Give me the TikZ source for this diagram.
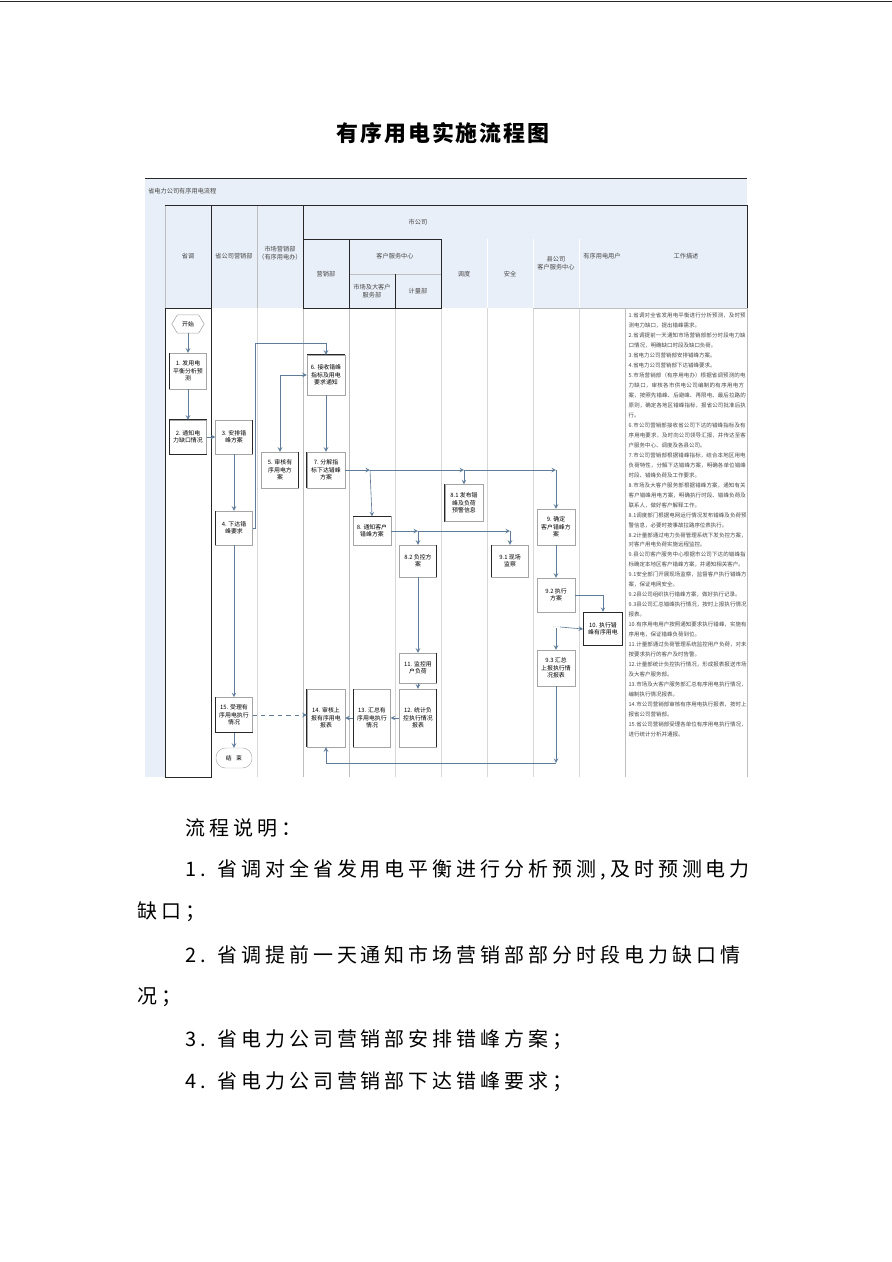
\documentclass[tikz,border=0pt]{standalone}
\usepackage{fontspec}
\setmainfont{Noto Sans CJK SC}
\newfontfamily\titlefont[LetterSpace=9]{Noto Sans CJK SC}
\newfontfamily\bodyfont[LetterSpace=20]{Noto Sans CJK SC}
\XeTeXlinebreaklocale "zh"
\XeTeXlinebreakskip = 0pt plus 1pt

\definecolor{bandblue}{RGB}{233,239,248}
\definecolor{boxgray}{RGB}{165,165,165}
\definecolor{edgedark}{RGB}{40,40,40}
\definecolor{flowc}{RGB}{95,125,155}
\definecolor{lanegray}{RGB}{190,190,190}
\definecolor{hdrtext}{RGB}{70,70,70}

\begin{document}
\begin{tikzpicture}[x=0.025cm, y=-0.025cm,
  procbox/.style={draw=boxgray, line width=0.3pt, minimum width=0.92cm, minimum height=0.85cm, inner sep=0.4pt, align=center, font=\fontsize{4.2}{5.2}\selectfont},
  edge/.style={draw=edgedark, line width=0.8pt},
  flow/.style={->, >=stealth, draw=flowc, line width=0.45pt},
  lane/.style={draw=lanegray, line width=0.3pt},
  hdr/.style={align=center, font=\fontsize{4.4}{5.6}\selectfont, text=hdrtext, inner sep=0},
  bodytext/.style={anchor=west, inner sep=0, font=\bodyfont\fontsize{14.2}{16}\selectfont}]

\useasboundingbox (0,0) rectangle (892,1262);
\draw[edgedark, line width=0.5pt] (0,1) -- (892,1);

% title
\node[font=\titlefont\bfseries\fontsize{15.6}{18}\selectfont] (title) at (443,133) {有序用电实施流程图};

% frame and header
\fill[bandblue] (145,178) rectangle (747,205);
\fill[bandblue] (145,205) rectangle (165,777);
\fill[bandblue] (165,205) rectangle (747,308);
\draw[edgedark, line width=0.5pt] (145,178) -- (747,178);
\node[hdr, anchor=west] (company) at (148,191) {省电力公司有序用电流程};

\foreach \lx in {487,533,579}
  \draw[white, line width=0.6pt] (\lx,239) -- (\lx,308);
\foreach \lx in {257,349,395,441,487,533,579}
  \draw[lane, draw=lanegray!60] (\lx,308) -- (\lx,777);
\draw[lane] (303,308) -- (303,777);
\draw[lane] (349,308) -- (349,777);
\draw[lane] (165,205) -- (165,308);
\draw[lane] (257,205) -- (257,308);
\draw[lane] (533,308) -- (747,308);
\draw[lane] (625,308) -- (625,777);
\draw[lane] (747,308) -- (747,777);
\draw[lane] (349,274) -- (441,274);

\draw[edgedark, line width=0.7pt] (165,205) -- (747,205) -- (747,308);
\draw[edgedark, line width=0.7pt] (165,308) rectangle (211,777);
\draw[edgedark, line width=0.7pt] (211,205) -- (211,308);
\draw[edgedark, line width=0.7pt] (303,205) -- (303,308);
\draw[edgedark, line width=0.7pt] (303,239) rectangle (441,308);
\draw[edgedark, line width=0.7pt] (349,239) -- (349,308);
\draw[edgedark, line width=0.7pt] (395,274) -- (395,308);

\node[hdr] (h1) at (188,256) {省调};
\node[hdr] (h2) at (234,256) {省公司营销部};
\node[hdr] (h3) at (280,253) {市场营销部\\（有序用电办）};
\node[hdr] (h4) at (418,222) {市公司};
\node[hdr] (h5) at (326,274) {营销部};
\node[hdr] (h6) at (395,256) {客户服务中心};
\node[hdr] (h7) at (372,291) {市场及大客户\\服务部};
\node[hdr] (h8) at (418,291) {计量部};
\node[hdr] (h9) at (464,274) {调度};
\node[hdr] (h10) at (510,274) {安全};
\node[hdr] (h11) at (556,263) {县公司\\客户服务中心};
\node[hdr] (h12) at (602,256) {有序用电用户};
\node[hdr] (h13) at (686,256) {工作描述};

% process boxes
\node[procbox, draw=none, minimum width=0.8cm, minimum height=0.45cm] (start) at (188,324) {开始};
\draw[boxgray, line width=0.4pt] (start.west) -- ([xshift=4pt]start.north west) -- ([xshift=-4pt]start.north east) -- (start.east) -- ([xshift=-4pt]start.south east) -- ([xshift=4pt]start.south west) -- cycle;

\node[procbox, minimum height=0.9cm] (s1) at (188,371) {1. 发用电\\平衡分析预\\测};
\node[procbox] (s2) at (188,437) {2. 通知电\\力缺口情况};
\node[procbox] (s3) at (234,437) {3. 安排错\\峰方案};
\node[procbox] (s4) at (234,528) {4. 下达错\\峰要求};
\node[procbox, minimum height=0.9cm] (s5) at (280,470) {5. 审核有\\序用电方\\案};
\node[procbox, minimum width=0.95cm, minimum height=1cm] (s6) at (326,375) {6. 接收错峰\\指标及用电\\要求通知};
\node[procbox, minimum width=0.95cm, minimum height=0.9cm] (s7) at (326,470) {7. 分解指\\标下达错峰\\方案};
\node[procbox, minimum width=0.95cm, minimum height=0.72cm] (s8) at (372,531) {8. 通知客户\\错峰方案};
\node[procbox, minimum width=0.95cm, minimum height=0.92cm] (s81) at (464,503) {8.1 发布错\\峰及负荷\\预警信息};
\node[procbox, minimum height=0.8cm] (s82) at (418,561) {8.2 负控方\\案};
\node[procbox, minimum height=0.8cm] (s91) at (510,561) {9.1 现场\\监察};
\node[procbox, minimum width=0.95cm, minimum height=0.9cm] (s9) at (556,527) {9. 确定\\客户错峰方\\案};
\node[procbox, minimum width=0.95cm, minimum height=0.85cm] (s92) at (556,595) {9.2 执行\\方案};
\node[inner sep=0.5pt, font=\fontsize{4.2}{5}\selectfont, text=boxgray] (dots) at (556,627) {…};
\node[procbox, minimum width=0.95cm, minimum height=0.9cm] (s93) at (556,668) {9.3 汇总\\上报执行情\\况报表};
\node[procbox, draw=edgedark, line width=0.6pt, minimum width=0.97cm, minimum height=0.83cm] (s10) at (603,629) {10. 执行错\\峰有序用电};
\node[procbox, minimum height=0.75cm] (s11) at (418,668) {11. 监控用\\户负荷};
\node[procbox, minimum height=1.45cm] (s12) at (418,718) {12. 统计负\\控执行情况\\报表};
\node[procbox, minimum height=1.45cm] (s13) at (372,718) {13. 汇总有\\序用电执行\\情况};
\node[procbox, minimum width=0.95cm, minimum height=1.45cm] (s14) at (326,718) {14. 审核上\\报有序用电\\报表};
\node[procbox, minimum height=0.88cm] (s15) at (234,715) {15. 受理有\\序用电执行\\情况};
\node[procbox, rounded corners=0.24cm, minimum width=0.9cm, minimum height=0.5cm] (finish) at (234,758) {结\hspace{3pt}束};

% dark edges
\draw[edge] (s1.north west) -- (s1.south west);
\draw[edge] (s2.north east) -- (s2.north west) -- (s2.south west) -- (s2.south east);
\draw[edge] (s3.north east) -- (s3.south east);
\draw[edge] (s4.north west) -- (s4.south west);
\draw[edge] (s5.north east) -- (s5.south east);
\draw[edge] (s6.north west) -- (s6.north east);
\draw[edge] (s7.north west) -- (s7.south west);
\draw[edge] (s8.north west) -- (s8.north east);
\draw[edge] (s81.north west) -- (s81.south west);
\draw[edge] (s82.north east) -- (s82.south east);
\draw[edge] (s91.north west) -- (s91.south west);
\draw[edge] (s11.north east) -- (s11.south east);
\draw[edge] (s12.north east) -- (s12.south east);
\draw[edge] (s13.north west) -- (s13.south west);
\draw[edge] (s14.north west) -- (s14.south west);
\draw[edge] (s15.north west) -- (s15.south west) -- (s15.south east);

% connectors
\coordinate (up4) at (255,343);
\coordinate (j1) at (370,470);
\coordinate (j2) at (464,470);
\coordinate (j3) at (556,470);
\coordinate (k1) at (418,531);
\coordinate (k2) at (510,531);
\coordinate (low) at (556,763);

\draw[flow] (start) -- (s1);
\draw[flow] (s1) -- (s2);
\draw[flow] (s2) -- (s3);
\draw[flow] (s3) -- (s4);
\draw[flow] (s4.east) -| (up4) -| (s6.north);
\draw[flow, <->] (s5.north) |- (s6.west);
\draw[flow] (s6) -- (s7);
\draw[flow] (s7.east) -- (j1);
\draw[flow] (j1) -- (j2);
\draw[flow] (j2) -- (j3);
\draw[flow] (j1) -- (s8.north);
\draw[flow] (j2) -- (s81.north);
\draw[flow] (j3) -- (s9.north);
\draw[flow] (s8.east) -- (k1);
\draw[flow] (k1) -- (k2);
\draw[flow] (k1) -- (s82.north);
\draw[flow] (k2) -- (s91.north);
\draw[flow] (s9) -- (s92);
\draw[flow] (s92.east) -| (s10.north);
\draw[flow] (dots) -- (s93);
\draw[flow] (dots.east) -- (s10.west);
\draw[flow] (s82) -- (s11);
\draw[flow] (s11) -- (s12);
\draw[flow] (s12) -- (s13);
\draw[flow] (s13) -- (s14);
\draw[flow] (s93.south) -- (low);
\draw[flow] (low) -| (s14.south);
\draw[flow, dashed] (s15.east) -- (s15.east -| s14.west);
\draw[flow] (s4) -- (s15);
\draw[flow] (s15) -- (finish);

% work description column
\node[anchor=north west, inner sep=1pt, text width=2.95cm, align=left, text=hdrtext,
  font=\fontsize{3.9}{7.1}\selectfont] (desc) at (627,311) {%
1.省调对全省发用电平衡进行分析预测，及时预测电力缺口，提出错峰需求。\\
2.省调提前一天通知市场营销部部分时段电力缺口情况，明确缺口时段及缺口负荷。\\
3.省电力公司营销部安排错峰方案。\\
4.省电力公司营销部下达错峰要求。\\
5.市场营销部（有序用电办）根据省调预测的电力缺口，审核各市供电公司编制的有序用电方案，按照先错峰、后避峰、再限电、最后拉路的原则，确定各地区错峰指标，报省公司批准后执行。\\
6.市公司营销部接收省公司下达的错峰指标及有序用电要求，及时向公司领导汇报，并传达至客户服务中心、调度及各县公司。\\
7.市公司营销部根据错峰指标，结合本地区用电负荷特性，分解下达错峰方案，明确各单位错峰时段、错峰负荷及工作要求。\\
8.市场及大客户服务部根据错峰方案，通知有关客户错峰用电方案，明确执行时段、错峰负荷及联系人，做好客户解释工作。\\
8.1调度部门根据电网运行情况发布错峰及负荷预警信息，必要时按事故拉路序位表执行。\\
8.2计量部通过电力负荷管理系统下发负控方案，对客户用电负荷实施远程监控。\\
9.县公司客户服务中心根据市公司下达的错峰指标确定本地区客户错峰方案，并通知相关客户。\\
9.1安全部门开展现场监察，监督客户执行错峰方案，保证电网安全。\\
9.2县公司组织执行错峰方案，做好执行记录。\\
9.3县公司汇总错峰执行情况，按时上报执行情况报表。\\
10.有序用电用户按照通知要求执行错峰，实施有序用电，保证错峰负荷到位。\\
11.计量部通过负荷管理系统监控用户负荷，对未按要求执行的客户及时告警。\\
12.计量部统计负控执行情况，形成报表报送市场及大客户服务部。\\
13.市场及大客户服务部汇总有序用电执行情况，编制执行情况报表。\\
14.市公司营销部审核有序用电执行报表，按时上报省公司营销部。\\
15.省公司营销部受理各单位有序用电执行情况，进行统计分析并通报。};

% explanation below the chart
\node[bodytext] (p0) at (185,828) {流程说明：};
\node[bodytext] (p1) at (185,870) {1. 省调对全省发用电平衡进行分析预测,及时预测电力};
\node[bodytext] (p1b) at (137,912) {缺口；};
\node[bodytext] (p2) at (185,955) {2. 省调提前一天通知市场营销部部分时段电力缺口情};
\node[bodytext] (p2b) at (137,997) {况；};
\node[bodytext] (p3) at (185,1040) {3. 省电力公司营销部安排错峰方案；};
\node[bodytext] (p4) at (185,1082) {4. 省电力公司营销部下达错峰要求；};

\end{tikzpicture}
\end{document}
